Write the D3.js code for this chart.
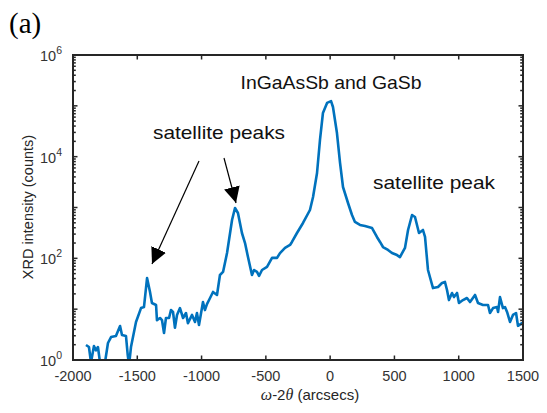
<!DOCTYPE html>
<html>
<head>
<meta charset="utf-8">
<script src="https://cdn.jsdelivr.net/npm/d3@7"></script>
<style>
  body { margin: 0; background: #fff; }
  text { font-family: "Liberation Sans", Arial, sans-serif; }
</style>
</head>
<body>
<svg id="chart" width="547" height="413"></svg>
<script>
// omega-2theta scan
var scanX = [-1899,-1876,-1860,-1837,-1821,-1806,-1790,-1767,-1751,-1728,-1704,-1666,-1634,-1619,-1588,-1575,-1564,-1549,
  -1510,-1471,-1448,-1424,-1401,-1386,-1354,-1347,-1323,-1308,-1292,-1277,-1253,-1238,-1222,-1207,-1191,-1168,
  -1144,-1121,-1106,-1074,-1051,-1036,-1020,-989,-974,-958,-934,-911,-880,-857,-833,-802,-763,-740,-717,-686,
  -662,-639,-608,-592,-569,-553,-530,-491,-452,-413,-390,-351,-312,-297,-258,-211,-157,-133,-102,-79,-56,-24,
  7,22,53,77,100,139,170,193,232,271,326,364,388,411,450,481,520,543,582,606,637,660,691,722,738,761,800,839,
  870,893,909,924,948,963,987,1002,1033,1064,1088,1127,1150,1189,1228,1243,1267,1298,1306,1321,1344,1360,1376,
  1399,1422,1446,1461,1492,1500];
var scanY = [1.97,1.80,0.9,1.88,1.55,1.80,0.9,0.5,0.9,2.16,2.83,2.97,4.67,3.10,2.97,1.3,0.8,1.8,
  5.6,10.5,11.0,41,21.8,13.2,12.1,6.1,6.7,6.1,3.4,6.7,6.7,9.6,8.8,4.3,7.7,10.5,
  6.7,8.4,5.3,7.7,5.6,8.4,4.9,13.8,9.6,12.6,16.6,21.8,19,47,54,127,568,978,780,315,
  200,106,47,59,54,45,59,68,102,102,127,160,183,210,315,496,893,1610,4770,21300,72300,114000,
  124000,94900,29200,7510,2530,1226,712,519,453,433,395,263,210,167,146,127,116,106,160,361,712,650,315,361,263,59,26,27.3,
  32.7,34.3,23.8,15.1,20.8,17.3,20.8,13.2,15.1,16.6,13.8,19,13.2,12.1,12.1,8.4,10.5,11.0,8.8,17.3,10.5,11.0,8.8,
  5.6,7.7,8.4,4.7,5.3,5.3];

var xTicks = [-2000,-1500,-1000,-500,0,500,1000,1500];
var yExps = [0,2,4,6];

var svg = d3.select("#chart");
var pLeft = 73, pRight = 523, pTop = 55, pBottom = 360;
var axisColor = "#262626";
var serif = "'Liberation Serif', 'DejaVu Serif', serif";

var x = d3.scaleLinear().domain([-2000,1500]).range([pLeft,pRight]);
var y = d3.scaleLog().domain([1,1e6]).range([pBottom,pTop]);

svg.append("defs").append("clipPath").attr("id","plotclip")
  .append("rect").attr("x",pLeft).attr("y",pTop).attr("width",pRight-pLeft).attr("height",pBottom-pTop);

var pts = scanX.map(function(d,i){ return [d, scanY[i]]; });
var line = d3.line().x(function(d){ return x(d[0]); }).y(function(d){ return y(d[1]); });

svg.append("path").datum(pts)
  .attr("clip-path","url(#plotclip)")
  .attr("d",line)
  .attr("fill","none")
  .attr("stroke","#0072BD")
  .attr("stroke-width",2.6)
  .attr("stroke-linejoin","round");

// ticks, matlab style (inside, on all four sides)
var g = svg.append("g").attr("stroke",axisColor);
xTicks.forEach(function(t){
  g.append("line").attr("x1",x(t)).attr("x2",x(t)).attr("y1",pBottom).attr("y2",pBottom-4.5).attr("stroke-width",1.5);
  g.append("line").attr("x1",x(t)).attr("x2",x(t)).attr("y1",pTop).attr("y2",pTop+4.5).attr("stroke-width",1.5);
});
for (var e = 0; e <= 6; e++) {
  for (var m = 1; m <= 9; m++) {
    var v = m * Math.pow(10,e);
    if (v > 1e6) break;
    var len = m == 1 ? 4.5 : 2.8;
    g.append("line").attr("x1",pLeft).attr("x2",pLeft+len).attr("y1",y(v)).attr("y2",y(v)).attr("stroke-width",1.5);
    g.append("line").attr("x1",pRight).attr("x2",pRight-len).attr("y1",y(v)).attr("y2",y(v)).attr("stroke-width",1.5);
  }
}
svg.append("rect").attr("x",pLeft).attr("y",pTop).attr("width",pRight-pLeft).attr("height",pBottom-pTop)
  .attr("fill","none").attr("stroke",axisColor).attr("stroke-width",2);

// tick labels
svg.selectAll(".xt").data(xTicks).enter().append("text")
  .attr("x",function(d){ return x(d); }).attr("y",pBottom+21)
  .attr("text-anchor","middle").attr("font-size",14.5).attr("fill","#333")
  .text(function(d){ return d; });

var yl = svg.selectAll(".yt").data(yExps).enter().append("text")
  .attr("x",pLeft-11).attr("y",function(d){ return y(Math.pow(10,d)) + 6; })
  .attr("text-anchor","end").attr("font-size",14.5).attr("fill","#333");
yl.append("tspan").text("10");
yl.append("tspan").attr("dy",-7).attr("font-size",10.5).text(function(d){ return d; });

// axis labels
svg.append("text").attr("transform","translate(33,207) rotate(-90)")
  .attr("text-anchor","middle").attr("font-size",14.5).attr("fill",axisColor)
  .text("XRD intensity (counts)");

var xl = svg.append("text").attr("x",310).attr("y",400).attr("text-anchor","middle")
  .attr("font-size",15).attr("fill",axisColor);
xl.append("tspan").style("font-family",serif).style("font-style","italic").attr("font-size",16).text("\u03c9");
xl.append("tspan").text("-2");
xl.append("tspan").style("font-family",serif).style("font-style","italic").attr("font-size",16).text("\u03b8");
xl.append("tspan").text(" (arcsecs)");

// panel label and annotations
svg.append("text").attr("x",9).attr("y",33).style("font-family",serif)
  .attr("font-size",29).attr("fill","#000").text("(a)");

var notes = [
  {t:"InGaAsSb and GaSb", x:331, y:89, w:181},
  {t:"satellite peaks", x:219, y:139, w:132},
  {t:"satellite peak", x:434, y:189, w:122}
];
svg.selectAll(".note").data(notes).enter().append("text")
  .attr("x",function(d){ return d.x - d.w / 2; }).attr("y",function(d){ return d.y; })
  .attr("textLength",function(d){ return d.w; }).attr("lengthAdjust","spacingAndGlyphs")
  .attr("font-size",18.5).attr("fill","#111")
  .text(function(d){ return d.t; });

// arrows
svg.append("marker").attr("id","head").attr("viewBox","0 0 10 10").attr("refX",10).attr("refY",5)
  .attr("markerWidth",16).attr("markerHeight",16).attr("markerUnits","userSpaceOnUse").attr("orient","auto")
  .append("path").attr("d","M0,0 L10,5 L0,10 z").attr("fill","#000");
var arrows = [[199,161,152,264],[224,158,236,203]];
arrows.forEach(function(a){
  svg.append("line").attr("x1",a[0]).attr("y1",a[1]).attr("x2",a[2]).attr("y2",a[3])
    .attr("stroke","#000").attr("stroke-width",1.2).attr("marker-end","url(#head)");
});
</script>
</body>
</html>
